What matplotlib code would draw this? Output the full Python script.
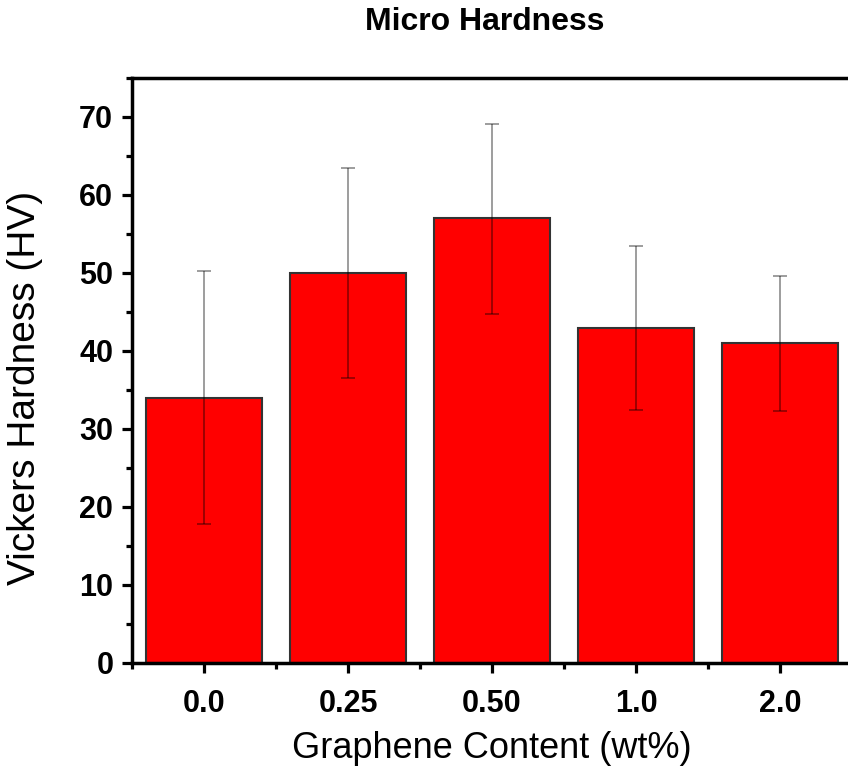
import matplotlib
matplotlib.use('Agg')
from matplotlib import pyplot as plt
from matplotlib.ticker import MultipleLocator, FixedLocator

plt.rcParams['font.family'] = ['Liberation Sans', 'DejaVu Sans']

# micro hardness vs graphene content
labels = ['0.0', '0.25', '0.50', '1.0', '2.0']
hardness = [34.0, 50.0, 57.0, 43.0, 41.0]
err_low = [16.2, 13.5, 12.2, 10.5, 8.7]
err_high = [16.2, 13.5, 12.1, 10.5, 8.6]

fig = plt.figure(figsize=(8.48, 7.69), dpi=100)
ax = fig.add_axes([132/848, 1 - 663/769, 720/848, 585/769])

x = range(len(labels))
ax.bar(x, hardness, width=0.81, color='#ff0000', edgecolor='#333333', linewidth=1.5, zorder=2)
ax.errorbar(x, hardness, yerr=[err_low, err_high], fmt='none', ecolor='black', alpha=0.45,
            elinewidth=1.2, capsize=5, capthick=1.2, zorder=3)

ax.set_xlim(-0.5, 4.5)
ax.set_ylim(0, 75)
ax.set_xticks(list(x))
ax.set_xticklabels(labels)
ax.xaxis.set_minor_locator(FixedLocator([-0.5, 0.5, 1.5, 2.5, 3.5]))
ax.yaxis.set_major_locator(MultipleLocator(10))
ax.yaxis.set_minor_locator(MultipleLocator(5))

for s in ax.spines.values():
    s.set_linewidth(2.5)
ax.tick_params(which='major', direction='out', length=7.5, width=2.3, labelsize=22)
ax.tick_params(which='minor', direction='out', length=4, width=2.3)
for t in ax.get_xticklabels() + ax.get_yticklabels():
    t.set_fontweight('bold')
ax.tick_params(axis='x', pad=11)
ax.tick_params(axis='y', pad=6)

ax.set_xlabel('Graphene Content (wt%)', fontsize=26, labelpad=9)
ax.set_ylabel('Vickers Hardness (HV)', fontsize=28)
ax.yaxis.set_label_coords(-0.124, 0.47)
fig.text(485/848, 1 - 22/769, 'Micro Hardness', fontsize=23, fontweight='bold', ha='center', va='center')

fig.savefig('out.png', dpi=100)
